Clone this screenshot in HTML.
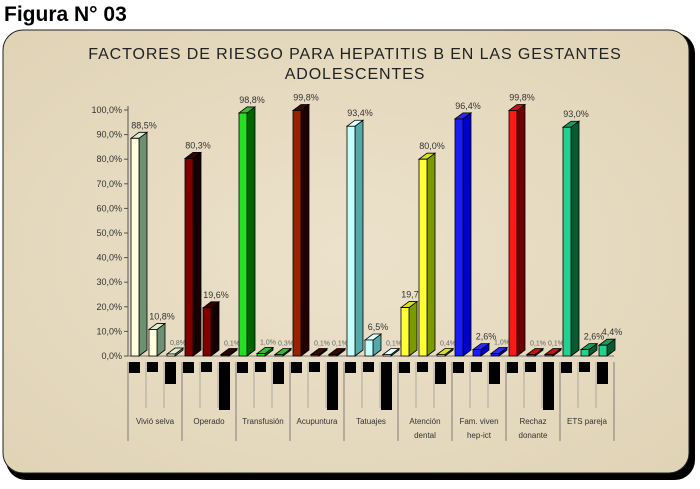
<!DOCTYPE html>
<html><head><meta charset="utf-8"><style>
body{margin:0;background:#fff;width:700px;height:484px;overflow:hidden;font-family:"Liberation Sans",sans-serif}
</style></head><body>
<svg width="700" height="484" xmlns="http://www.w3.org/2000/svg" id="svg">
<defs>
<radialGradient id="bg" cx="50%" cy="50%" r="70%"><stop offset="0" stop-color="#ece2cb"/><stop offset="1" stop-color="#e0d3b6"/></radialGradient>
</defs>
<text x="4" y="21" font-size="21" font-weight="bold" fill="#000">Figura N° 03</text>
<rect x="6" y="33" width="689" height="447" rx="20" fill="#000"/>
<rect x="3" y="30" width="686" height="443" rx="20" fill="url(#bg)" stroke="#222" stroke-width="1"/>
<text x="355" y="59" font-size="16" letter-spacing="0.9" text-anchor="middle" fill="#222">FACTORES DE RIESGO PARA HEPATITIS B EN LAS GESTANTES</text>
<text x="355" y="79" font-size="16" letter-spacing="0.9" text-anchor="middle" fill="#222">ADOLESCENTES</text>
<g id="plot"></g>
</svg>
<script>
const categories=["Vivió selva","Operado","Transfusión","Acupuntura","Tatuajes","Atención|dental","Fam. viven|hep-ict","Rechaz|donante","ETS pareja"];
const series1=[88.5,80.3,98.8,99.8,93.4,19.7,96.4,99.8,93.0];
const series2=[10.8,19.6,1.0,0.1,6.5,80.0,2.6,0.1,2.6];
const series3=[0.8,0.1,0.3,0.1,0.1,0.4,1.0,0.1,4.4];
const yTicks=[0,10,20,30,40,50,60,70,80,90,100];
const tallBox=[false,true,false,true,true,false,false,true,false];
const colors=[
 ["#ffffe0","#6f9070","#dfeccf"],["#800000","#140000","#3a0000"],["#22e022","#006400","#33bb33"],
 ["#992200","#1e0000","#3a0a00"],["#c4ffff","#55a8a8","#e0ffff"],["#ffff33","#7a9a00","#d8e020"],
 ["#1a1aff","#0000c8","#2a2aee"],["#ff1818","#6a0000","#cc1010"],["#22d090","#0a5a30","#1a9a60"]];
const NS="http://www.w3.org/2000/svg";
const plot=document.getElementById('plot');
const y0=356,y100=110,x0=128,gw=54,dx=8,dy=6,bw=8;
const yS=v=>y0-(y0-y100)*v/100;
const gX=i=>x0+i*gw;
function el(t,a){const e=document.createElementNS(NS,t);for(const k in a)e.setAttribute(k,a[k]);plot.appendChild(e);return e;}
function txt(x,y,s,size,anchor){const t=el('text',{x:x,y:y,'font-size':size,'text-anchor':anchor||'middle',fill:'#333'});t.textContent=s;return t;}
let ax=el('line',{x1:x0,y1:y100-4,x2:x0,y2:y0,stroke:'#555'});


yTicks.forEach(v=>{
 const y=yS(v);
 const tk=el('line',{x1:x0-4,y1:y,x2:x0,y2:y,stroke:'#555'});
 
 
 const t=txt(x0-6,y+3,v.toFixed(1).replace('.',',')+'%',9,'end');
 
 
});
let base=el('line',{x1:x0,y1:y0,x2:x0+9*gw,y2:y0,stroke:'#777'});


for(let i=0;i<=9;i++){
 const l=el('line',{x1:gX(i),y1:362,x2:gX(i),y2:441,stroke:'#666','stroke-width':0.8});
 
 
 if(i<9){for(let j=1;j<3;j++){
  const s=el('line',{x1:gX(i)+j*18,y1:362,x2:gX(i)+j*18,y2:408,stroke:'#888','stroke-width':0.6});
  
  
 }}
}
function bar(x,v,c,name){
 let h=Math.max(y0-yS(v),1.5);const yt=y0-h;
 const g=document.createElementNS(NS,'g');plot.appendChild(g);
 
 
 const mk=(pts,f)=>{const p=document.createElementNS(NS,'polygon');p.setAttribute('points',pts);p.setAttribute('fill',f);p.setAttribute('stroke','#000');p.setAttribute('stroke-width','0.8');g.appendChild(p);};
 mk(`${x+bw},${y0} ${x+bw+dx},${y0-dy} ${x+bw+dx},${yt-dy} ${x+bw},${yt}`,c[1]);
 mk(`${x},${yt} ${x+dx},${yt-dy} ${x+bw+dx},${yt-dy} ${x+bw},${yt}`,c[2]);
 mk(`${x},${y0} ${x+bw},${y0} ${x+bw},${yt} ${x},${yt}`,c[0]);
 return yt;
}
const allS=[series1,series2,series3];
categories.forEach((cat,i)=>{
 allS.forEach((s,j)=>{
  const x=gX(i)+3+j*18;
  const v=s[i];
  const yt=bar(x,v,colors[i],'bar-'+(i+1)+'-'+(j+1));
  const small=v<2;
  const t=txt(x+(small?11:13),yt-dy-(small?3:4),v.toFixed(1).replace('.',',')+'%',small?7:9);
  if(small)t.setAttribute('fill','#666');
  
  
  const bh=j<2?(j==0?11:10):(tallBox[i]?48:22);
  const b=el('rect',{x:gX(i)+1+j*18,y:362,width:11,height:bh,fill:'#000'});
  
  
 });
 const parts=cat.split('|');
 parts.forEach((p,k)=>{
  const t=txt(gX(i)+gw/2,424+k*14,p,8);
  
  
 });
});
</script>
</body></html>
